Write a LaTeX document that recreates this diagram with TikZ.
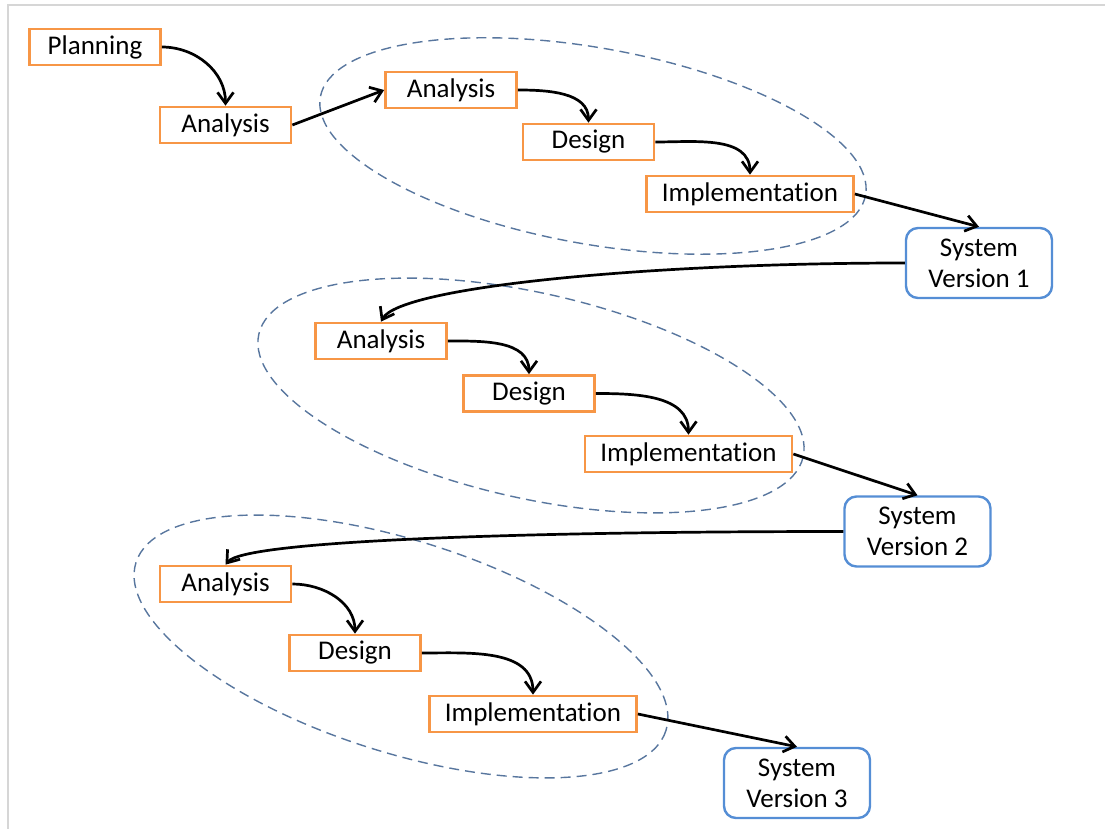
\documentclass[tikz,border=0pt]{standalone}
\usepackage{fontspec}
\setmainfont{Carlito}[Ligatures=NoCommon]
\usetikzlibrary{arrows.meta}
\definecolor{boxorange}{RGB}{247,150,70}
\definecolor{boxblue}{RGB}{85,142,213}
\definecolor{loopblue}{RGB}{88,118,158}
\definecolor{framegray}{RGB}{214,214,214}
\newcommand{\phaseloop}[4]{
	\draw[loopline, rotate around={#2:(#1)}] (#1) ellipse [x radius=#3, y radius=#4];
}

\begin{document}
\begin{tikzpicture}[x=0.5pt,y=-0.5pt,
	stage/.style={draw=boxorange, fill=white, line width=1.35pt, minimum width=65.5pt, minimum height=18pt, inner sep=0pt, font=\fontsize{13.5}{16}\selectfont},
	widestage/.style={stage, minimum width=103.5pt},
	release/.style={draw=boxblue, fill=white, line width=1.2pt, rounded corners=6pt, minimum width=73pt, minimum height=35pt, inner sep=0pt, align=center, font=\fontsize{13.5}{15.5}\selectfont},
	flow/.style={-{Straight Barb[length=5.5pt,width=8pt]}, line width=1.35pt},
	loopline/.style={draw=loopblue, line width=0.7pt, dash pattern=on 5pt off 3pt}]
	\useasboundingbox (0,0) rectangle (1105,829);
	\draw[framegray, line width=1pt] (8,829) -- (8,5.5) -- (1105,5.5);

	\coordinate (L1) at (593,146);
	\coordinate (L2) at (531,395.5);
	\coordinate (L3) at (401,646.5);
	\phaseloop{L1}{-10.2}{277}{98}
	\phaseloop{L2}{-12.7}{279}{102.6}
	\phaseloop{L3}{-17.6}{278}{106}

	\node[stage] (plan) at (95,47) {Planning};
	\node[stage] (ana0) at (225.5,125) {Analysis};

	\node[stage] (ana1) at (451,90) {Analysis};
	\node[stage] (des1) at (588.5,142) {Design};
	\node[widestage] (imp1) at (750,194) {Implementation};
	\node[release] (sys1) at (979,263) {System\\Version 1};

	\node[stage] (ana2) at (381,341) {Analysis};
	\node[stage] (des2) at (529,393.5) {Design};
	\node[widestage] (imp2) at (688.5,454) {Implementation};
	\node[release] (sys2) at (917.5,531.5) {System\\Version 2};

	\node[stage] (ana3) at (225.5,584) {Analysis};
	\node[stage] (des3) at (355,653) {Design};
	\node[widestage] (imp3) at (533,714) {Implementation};
	\node[release] (sys3) at (797,783) {System\\Version 3};

	\draw[flow] (plan.east) to[out=0,in=90] (ana0.north);
	\draw[flow] (ana0.east) -- (ana1.west);
	\draw[flow] (ana1.east) to[out=0,in=90] (des1.north);
	\draw[flow] (des1.east) to[out=0,in=90] (imp1.north);
	\draw[flow] (imp1.east) -- (sys1.north);
	\draw[flow] (sys1.west) .. controls +(-256,0) and +(19,-35) .. (ana2.north);
	\draw[flow] (ana2.east) to[out=0,in=90] (des2.north);
	\draw[flow] (des2.east) to[out=0,in=90] (imp2.north);
	\draw[flow] (imp2.east) -- (sys2.north);
	\draw[flow] (sys2.west) .. controls +(-300,0) and +(20,-25) .. (ana3.north);
	\draw[flow] (ana3.east) to[out=0,in=90] (des3.north);
	\draw[flow] (des3.east) to[out=0,in=90] (imp3.north);
	\draw[flow] (imp3.east) -- (sys3.north);
\end{tikzpicture}
\end{document}
